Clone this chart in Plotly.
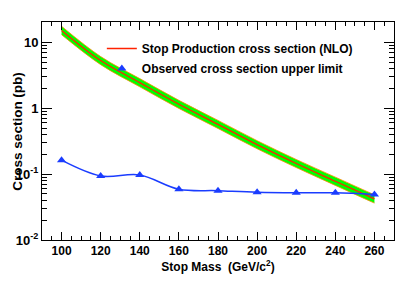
import plotly.graph_objects as go

mass = [100, 120, 140, 160, 180, 200, 220, 240, 260]
nlo = [15.2, 5.3, 2.45, 1.15, 0.57, 0.28, 0.145, 0.078, 0.042]
nlo_up = [17.6, 6.1, 2.82, 1.32, 0.655, 0.322, 0.167, 0.09, 0.0485]
nlo_dn = [13.1, 4.6, 2.12, 0.995, 0.494, 0.243, 0.126, 0.0675, 0.0363]
obs = [0.163, 0.094, 0.097, 0.059, 0.056, 0.053, 0.052, 0.052, 0.049]

y_tickvals = [0.01, 0.1, 1, 10]
y_ticktext = ["10<sup>-2</sup>", "10<sup>-1</sup>", "1", "10"]
x_tickvals = [100, 120, 140, 160, 180, 200, 220, 240, 260]
y_title = "Cross section (pb)"
x_title = "Stop Mass  (GeV/c<sup>2</sup>)"

FONT = "Liberation Sans"
orange = "#ff8800"
green = "#00ff00"

fig = go.Figure()
fig.add_trace(go.Scatter(x=mass, y=nlo_dn, mode="lines", line=dict(color=orange, width=0.8, shape="spline"),
                         showlegend=False, hoverinfo="skip"))
fig.add_trace(go.Scatter(x=mass, y=nlo_up, mode="lines", line=dict(color=orange, width=0.8, shape="spline"),
                         fill="tonexty", fillcolor=green, showlegend=False, hoverinfo="skip"))
fig.add_trace(go.Scatter(x=mass, y=nlo, mode="lines", line=dict(color="#ff2200", width=1.3, shape="spline"),
                         name="Stop Production cross section (NLO)", legendgroup="a"))
fig.add_trace(go.Scatter(x=mass, y=obs, mode="lines", line=dict(color="#1a3cff", width=1.5, shape="spline"),
                         showlegend=False))
fig.add_trace(go.Scatter(x=mass, y=obs, mode="markers",
                         marker=dict(symbol="triangle-up", size=8, color="#1a3cff"),
                         name="Observed cross section upper limit", legendgroup="b"))

minor_y = []
for d in [0.01, 0.1, 1, 10]:
    for k in range(2, 10):
        v = d * k
        if v < 20.5:
            minor_y.append(v)

fig.add_annotation(text=y_title, textangle=-90, xref="paper", yref="paper",
                   x=-0.072, y=0.5, xanchor="center", yanchor="middle", showarrow=False,
                   font=dict(size=13.5, family=FONT, weight="bold", color="black"))

fig.update_layout(
    width=415, height=281,
    margin=dict(l=34, r=29, t=14, b=49),
    paper_bgcolor="white", plot_bgcolor="white",
    font=dict(family=FONT, color="black", size=12, weight="bold"),
    showlegend=True,
    legend=dict(x=0.17, y=0.945, xanchor="left", yanchor="top", bgcolor="rgba(0,0,0,0)",
                font=dict(size=12, family=FONT, weight="bold"), tracegroupgap=1,
                traceorder="grouped", itemwidth=30),
    xaxis=dict(range=[90, 270], showline=True, linecolor="black", linewidth=1, mirror="ticks",
               ticks="inside", ticklen=8, tickcolor="black", tickvals=x_tickvals,
               showgrid=False, zeroline=False, automargin=False,
               minor=dict(ticks="inside", ticklen=4, dtick=5, tick0=0, tickcolor="black", showgrid=False),
               tickfont=dict(size=12, family=FONT, weight="bold"),
               title=dict(text=x_title, font=dict(size=12, family=FONT, weight="bold"), standoff=2)),
    yaxis=dict(type="log", range=[-2, 1.31], showline=True, linecolor="black", linewidth=1, mirror="ticks",
               ticks="inside", ticklen=10, tickcolor="black", tickvals=y_tickvals, ticktext=y_ticktext,
               showgrid=False, zeroline=False, automargin=False,
               minor=dict(ticks="inside", ticklen=5, tickvals=minor_y, tickcolor="black", showgrid=False),
               tickfont=dict(size=13, family=FONT, weight="bold")),
)

fig.write_html("out.html", config={"displayModeBar": False})
